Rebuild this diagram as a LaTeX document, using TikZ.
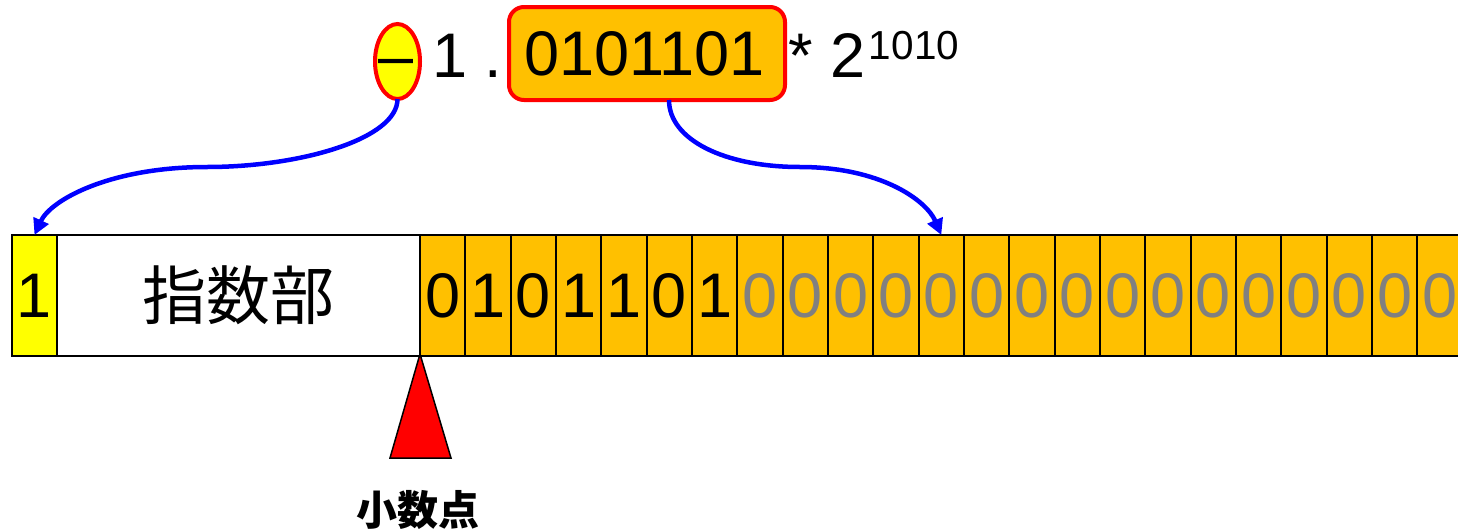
\documentclass[tikz,border=0pt]{standalone}
\usepackage{fontspec}
\setmainfont{Liberation Sans}
\newfontfamily\cjk{Noto Sans CJK JP}
\usetikzlibrary{shapes.geometric,arrows.meta}
\definecolor{mantissa}{RGB}{255,192,0}
\definecolor{signy}{RGB}{255,255,0}
\definecolor{zerogray}{RGB}{128,128,128}

\begin{document}
\begin{tikzpicture}[x=1pt,y=-1pt,
  cell/.style={draw=black,line width=2pt,minimum height=121pt,inner sep=0pt,
    outer sep=0pt,anchor=north west,font=\fontsize{63}{63}\selectfont},
  bigtxt/.style={inner sep=0pt,anchor=base,font=\fontsize{63}{63}\selectfont},
  conn/.style={draw=blue,line width=4.5pt,-{Triangle[length=16pt,width=16pt]}},
  pointer/.style={draw=black,line width=1.5pt,fill=red,line join=miter},
  redline/.style={draw=red,line width=4pt}
]
\clip (0,0) rectangle (1458,530);

% the storage word: sign bit, exponent field, mantissa bits
\node[cell,fill=signy,minimum width=45pt] (sign) at (12,235) {1};
\node[cell,fill=white,minimum width=363pt,font=\cjk\fontsize{64}{64}\selectfont] (exp) at (57,235) {指数部};
\foreach \d [count=\i] in {0,1,0,1,1,0,1}
  \node[cell,fill=mantissa,minimum width=45.33pt] (c\i) at ({420+(\i-1)*45.33},235) {\d};
\foreach \i in {8,...,23}
  \node[cell,fill=mantissa,text=zerogray,minimum width=45.33pt] (c\i) at ({420+(\i-1)*45.33},235) {0};

% binary point marker
\draw[pointer] ([yshift=2pt]exp.south east) -- ++(-30,104) -- ++(61,0) -- cycle;
\node[inner sep=0pt,font=\cjk\bfseries\fontsize{41}{41}\selectfont] (ptlabel) at (418,510) {小数点};

% the number in normalised form
\node[redline,fill=signy,ellipse,minimum width=45pt,minimum height=75pt,
  inner sep=0pt,outer sep=0pt] (minus) at (397.5,61.5) {};
\node[bigtxt] (minustxt) at (396,77) {\textendash};
\node[bigtxt] (one) at (450,77) {1};
\node[bigtxt] (dot) at (493.5,77) {.};
\node[redline,fill=mantissa,rounded corners=15pt,minimum width=276pt,
  minimum height=93pt,inner sep=0pt,outer sep=0pt,font=\fontsize{63}{63}\selectfont]
  (frac) at (647,53.5) {0101101\hspace*{5pt}};
\node[bigtxt] (star) at (801,77) {*};
\node[bigtxt] (two) at (848.5,77) {2};
\node[inner sep=0pt,anchor=base,font=\fontsize{40.5}{40.5}\selectfont] (pow) at (914,59) {1010};

% where the sign and the fraction go
\coordinate (m1) at (207,167);
\coordinate (m2) at (800,167);
\draw[conn] (minus.south) .. controls +(0,40) and +(93,0) .. (m1)
  .. controls +(-97,0) and +(16,-35) .. (sign.north);
\draw[conn] ([xshift=22pt]frac.south) .. controls +(0,40) and +(-75,0) .. (m2)
  .. controls +(80,0) and +(-15,-35) .. (c12.north);
\end{tikzpicture}
\end{document}
